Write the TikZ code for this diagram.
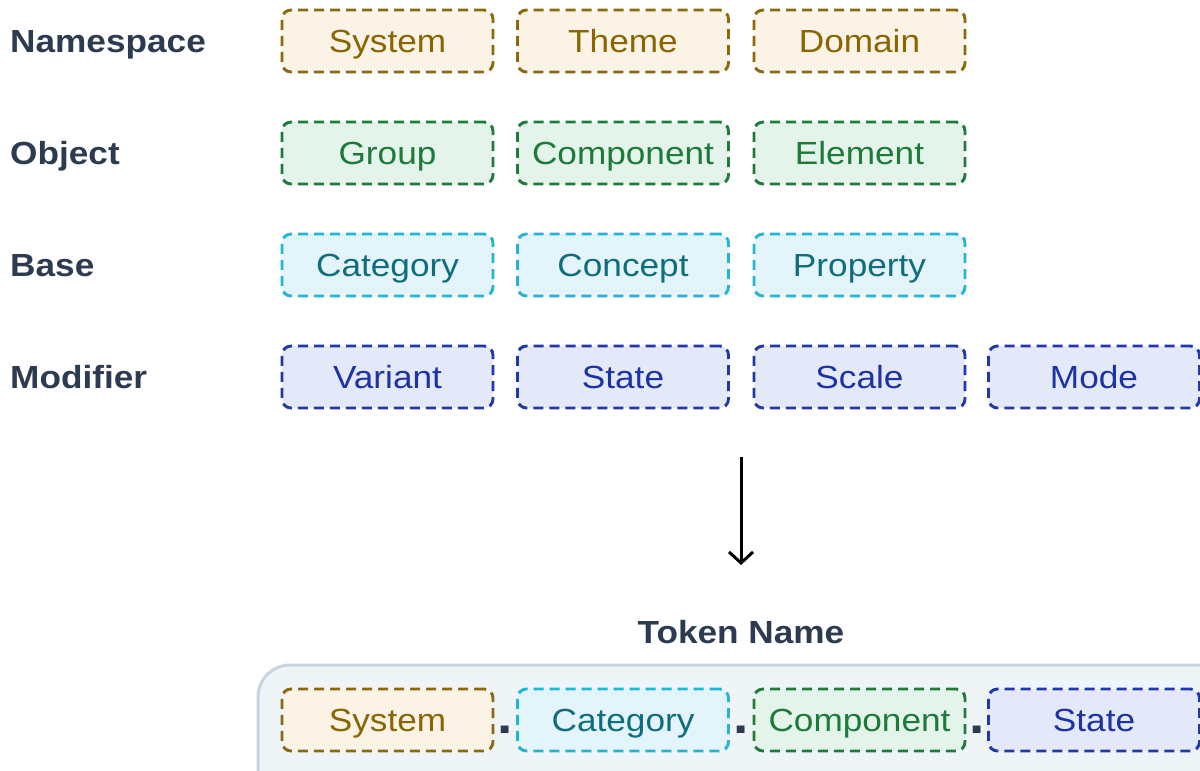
\documentclass[tikz,border=0pt]{standalone}
\usepackage{fontspec}
\setmainfont{Liberation Sans}[FakeStretch=1.1]
\usetikzlibrary{arrows.meta}
\definecolor{nsS}{HTML}{8B6A0F}\definecolor{nsF}{HTML}{FAF3E6}\definecolor{nsT}{HTML}{8A6500}
\definecolor{obS}{HTML}{1E7B3C}\definecolor{obF}{HTML}{E5F4EA}\definecolor{obT}{HTML}{1C7A3A}
\definecolor{baS}{HTML}{22B5D4}\definecolor{baF}{HTML}{E3F4FA}\definecolor{baT}{HTML}{0F6E7E}
\definecolor{moS}{HTML}{2238A8}\definecolor{moF}{HTML}{E3E9F8}\definecolor{moT}{HTML}{1D33A5}
\definecolor{lab}{HTML}{2D3B50}
\definecolor{contS}{HTML}{C9D3E3}\definecolor{contF}{HTML}{EFF4F6}
\begin{document}
\begin{tikzpicture}[x=1pt,y=-1pt,
  tok/.style={minimum width=211pt, minimum height=62pt, inner sep=0pt, rounded corners=9pt,
    dashed, dash pattern=on 10pt off 6pt, line width=2.9pt,
    font=\fontsize{32}{36}\selectfont, text height=26pt, text depth=4pt},
  ns/.style={tok, draw=nsS, fill=nsF, text=nsT},
  ob/.style={tok, draw=obS, fill=obF, text=obT},
  ba/.style={tok, draw=baS, fill=baF, text=baT},
  mo/.style={tok, draw=moS, fill=moF, text=moT},
  rowlab/.style={anchor=west, inner sep=0pt, text=lab, font=\fontsize{32}{36}\selectfont\bfseries,
    text height=26pt, text depth=4pt},
  sep/.style={inner sep=0pt, anchor=base, text=lab, font=\fontsize{50}{52}\selectfont\bfseries}
]
\useasboundingbox (0,0) rectangle (1200,771);
\clip (0,0) rectangle (1200,771);
% row labels
\node[rowlab] (lns) at (10,41) {Namespace};
\node[rowlab] (lob) at (10,153) {Object};
\node[rowlab] (lba) at (10,265) {Base};
\node[rowlab] (lmo) at (10,377) {Modifier};
% rows
\node[ns] (n1) at (387.5,41) {System};
\node[ns] (n2) at (623,41) {Theme};
\node[ns] (n3) at (859.5,41) {Domain};
\node[ob] (o1) at (387.5,153) {Group};
\node[ob] (o2) at (623,153) {Component};
\node[ob] (o3) at (859.5,153) {Element};
\node[ba] (b1) at (387.5,265) {Category};
\node[ba] (b2) at (623,265) {Concept};
\node[ba] (b3) at (859.5,265) {Property};
\node[mo] (m1) at (387.5,377) {Variant};
\node[mo] (m2) at (623,377) {State};
\node[mo] (m3) at (859.5,377) {Scale};
\node[mo] (m4) at (1094,377) {Mode};
% arrow
\coordinate (arrA) at (741,457);
\coordinate (arrB) at (741,565);
\draw[line width=3pt, -{Straight Barb[length=11pt,width=24pt,line width=3pt]}] (arrA) -- (arrB);
% token name
\node[inner sep=0pt, text=lab, font=\fontsize{32}{36}\selectfont\bfseries,
  text height=26pt, text depth=4pt] (title) at (741,632) {Token Name};
\draw[draw=contS, fill=contF, line width=3pt, rounded corners=32pt] (258,665) rectangle (1240,810);
\node[ns] (t1) at (387.5,720) {System};
\node[ba] (t2) at (623,720) {Category};
\node[ob] (t3) at (859.5,720) {Component};
\node[mo] (t4) at (1094,720) {State};
\node[sep] (d1) at (505.5,733) {.};
\node[sep] (d2) at (741,733) {.};
\node[sep] (d3) at (977,733) {.};
\end{tikzpicture}
\end{document}
